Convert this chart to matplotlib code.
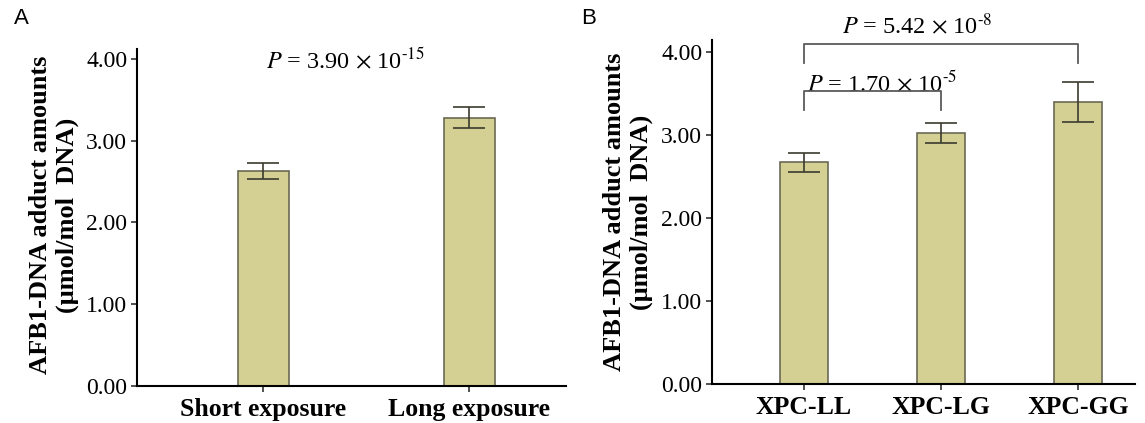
import numpy as np
import matplotlib
matplotlib.use("Agg")
import matplotlib.pyplot as plt

plt.rcParams['font.family'] = ['Liberation Serif', 'DejaVu Serif']
plt.rcParams['mathtext.fontset'] = 'stix'

# panel A data
groups_a = ["Short exposure", "Long exposure"]
means_a = [2.63, 3.28]
errs_a = [0.10, 0.125]

# panel B data
groups_b = ["XPC-LL", "XPC-LG", "XPC-GG"]
means_b = [2.67, 3.03, 3.40]
errs_b = [0.113, 0.12, 0.24]

yticks = [0.0, 1.0, 2.0, 3.0, 4.0]
ylabel = "AFB1-DNA adduct amounts\n(\u03bcmol/mol  DNA)"

BAR = "#d4cf93"
EDGE = "#6a6955"
ERR = "#3b3b30"
BRK = "#5a5a5a"


def style_axes(ax, groups, ytop, xlim):
    ax.set_ylim(0, ytop)
    ax.set_xlim(*xlim)
    ax.set_yticks(yticks)
    ax.set_yticklabels(["%.2f" % v for v in yticks], fontsize=17)
    ax.set_xticks(np.arange(len(groups)))
    ax.set_xticklabels(groups, fontsize=18.5, fontweight='bold')
    for s in ['top', 'right']:
        ax.spines[s].set_visible(False)
    for s in ['left', 'bottom']:
        ax.spines[s].set_linewidth(1.5)
    ax.tick_params(axis='both', direction='out', length=4, width=1.2, color='#333333')
    ax.tick_params(axis='y', pad=3)
    ax.tick_params(axis='x', pad=5)


def draw_bars(ax, means, errs, width):
    x = np.arange(len(means))
    ax.bar(x, means, width=width, color=BAR, edgecolor=EDGE, linewidth=1.2, zorder=2)
    ax.errorbar(x, means, yerr=errs, fmt='none', ecolor=ERR, elinewidth=1.2,
                capsize=11.5, capthick=1.2, zorder=3)


def bracket(ax, x0, x1, lo, hi):
    ax.plot([x0, x0, x1, x1], [lo, hi, hi, lo], color=BRK, lw=1.3, clip_on=False, zorder=4)


def ptext(mant, expo):
    return r"$P$ = %s $\times$ 10$^{\text{%s}}$" % (mant, expo)


fig = plt.figure(figsize=(11.45, 4.23), dpi=100)

# ---- panel A
axA = fig.add_axes([0.1197, 0.0875, 0.3747, 0.7967])
draw_bars(axA, means_a, errs_a, 0.248)
style_axes(axA, groups_a, 4.12, (-0.612, 1.471))
axA.text(0.40, 3.89, ptext("3.90", "-15"), fontsize=17.5,
         ha='center', va='baseline')
fig.text(79 / 1145, 0.492, ylabel, rotation=90, ha='right', va='center',
         multialignment='center', fontsize=19, fontweight='bold')
fig.text(14 / 1145, 1 - 18 / 423, "A", fontsize=16, family='Liberation Sans',
         ha='left', va='center')

# ---- panel B
axB = fig.add_axes([0.6218, 0.0922, 0.3694, 0.8132])
draw_bars(axB, means_b, errs_b, 0.35)
style_axes(axB, groups_b, 4.145, (-0.672, 2.416))
bracket(axB, 0, 1, 3.30, 3.53)
bracket(axB, 0, 2, 3.87, 4.10)
axB.text(0.57, 3.53, ptext("1.70", "-5"), fontsize=17.5,
         ha='center', va='baseline', clip_on=False)
axB.text(0.83, 4.22, ptext("5.42", "-8"), fontsize=17.5,
         ha='center', va='baseline', clip_on=False)
fig.text(653 / 1145, 0.499, ylabel, rotation=90, ha='right', va='center',
         multialignment='center', fontsize=19, fontweight='bold')
fig.text(581 / 1145, 1 - 18 / 423, "B", fontsize=16, family='Liberation Sans',
         ha='left', va='center')

fig.savefig("out.png", dpi=100)
